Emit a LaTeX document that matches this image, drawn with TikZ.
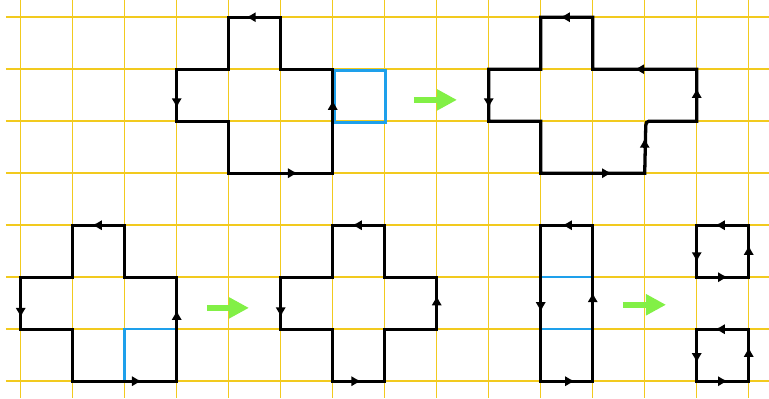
\documentclass[tikz,border=0pt]{standalone}
\usetikzlibrary{arrows.meta}
\definecolor{cGrid}{RGB}{242,202,30}
\definecolor{cCell}{RGB}{30,160,235}
\definecolor{cMove}{RGB}{130,240,70}

\begin{document}
\begin{tikzpicture}[
    x=1cm, y=1cm,
    gridline/.style={draw=cGrid, line width=0.8pt},
    outline/.style={draw=black, line width=1.8pt},
    cell/.style={draw=cCell, line width=1.4pt},
    dir/.style={-{Latex[length=5.4pt,width=5.8pt]}, line width=1.8pt},
    move/.style={-{Triangle[length=11pt,width=11pt]}, draw=cMove, line width=3.3pt}
]

\useasboundingbox (-0.398,0.331) rectangle (14.39,-7.323);

% Grid
\foreach \i in {0,...,14}
    \draw[gridline] (\i,0.331) -- (\i,-7.323);
\foreach \j in {0,...,7}
    \draw[gridline] (-0.283,-\j) -- (14.39,-\j);

% Marked cells
\draw[cell] (6.03,-1.02) rectangle (7.02,-2.02);
\draw[cell] (2,-6) rectangle (3,-7);
\draw[cell] (10,-5) rectangle (11,-6);

% Top row: before
\draw[outline] (4,0) -- (5,0) -- (5,-1) -- (6,-1) -- (6,-3) -- (4,-3) -- (4,-2)
    -- (3,-2) -- (3,-1) -- (4,-1) -- cycle;
\draw[dir] (4.5,0) -- (4.33,0);
\draw[dir] (3,-1.58) -- (3,-1.75);
\draw[dir] (5.16,-3) -- (5.33,-3);
\draw[dir] (6,-1.76) -- (6,-1.59);

% Top row: after
\draw[outline] (10,0) -- (11,0) -- (11,-1) -- (13,-1) -- (13,-2) -- (12.08,-2)
    to[out=180,in=90] (12.02,-2.08) -- (12,-3) -- (10,-3) -- (10,-2) -- (9,-2)
    -- (9,-1) -- (10,-1) -- cycle;
\draw[dir] (10.54,0) -- (10.37,0);
\draw[dir] (11.97,-1) -- (11.8,-1);
\draw[dir] (13,-1.53) -- (13,-1.36);
\draw[dir] (12,-2.49) -- (12,-2.32);
\draw[dir] (11.2,-3) -- (11.37,-3);
\draw[dir] (9,-1.58) -- (9,-1.75);

% Bottom row: first before
\draw[outline] (1,-4) -- (2,-4) -- (2,-5) -- (3,-5) -- (3,-7) -- (1,-7) -- (1,-6)
    -- (0,-6) -- (0,-5) -- (1,-5) -- cycle;
\draw[dir] (1.54,-4) -- (1.37,-4);
\draw[dir] (0,-5.61) -- (0,-5.78);
\draw[dir] (2.16,-7) -- (2.33,-7);
\draw[dir] (3,-5.8) -- (3,-5.63);

% Bottom row: first after
\draw[outline] (6,-4) -- (7,-4) -- (7,-5) -- (8,-5) -- (8,-6) -- (7,-6) -- (7,-7)
    -- (6,-7) -- (6,-6) -- (5,-6) -- (5,-5) -- (6,-5) -- cycle;
\draw[dir] (6.54,-4) -- (6.37,-4);
\draw[dir] (5,-5.6) -- (5,-5.77);
\draw[dir] (6.38,-7) -- (6.55,-7);
\draw[dir] (8,-5.52) -- (8,-5.35);

% Bottom row: second before
\draw[outline] (10,-4) rectangle (11,-7);
\draw[dir] (10.58,-4) -- (10.41,-4);
\draw[dir] (10,-5.5) -- (10,-5.67);
\draw[dir] (10.49,-7) -- (10.66,-7);
\draw[dir] (11,-5.46) -- (11,-5.29);

% Bottom row: second after
\draw[outline] (13,-4) rectangle (14,-5);
\draw[dir] (13.52,-4) -- (13.35,-4);
\draw[dir] (13,-4.54) -- (13,-4.71);
\draw[dir] (13.43,-5) -- (13.6,-5);
\draw[dir] (14,-4.55) -- (14,-4.38);
\draw[outline] (13,-6) rectangle (14,-7);
\draw[dir] (13.52,-6) -- (13.35,-6);
\draw[dir] (13,-6.48) -- (13,-6.65);
\draw[dir] (13.43,-7) -- (13.6,-7);
\draw[dir] (14,-6.51) -- (14,-6.34);

% Moves
\coordinate (m1a) at (7.56,-1.59);
\coordinate (m1b) at (8.39,-1.59);
\coordinate (m2a) at (3.58,-5.59);
\coordinate (m2b) at (4.39,-5.59);
\coordinate (m3a) at (11.58,-5.53);
\coordinate (m3b) at (12.41,-5.53);
\draw[move] (m1a) -- (m1b);
\draw[move] (m2a) -- (m2b);
\draw[move] (m3a) -- (m3b);

\end{tikzpicture}
\end{document}
